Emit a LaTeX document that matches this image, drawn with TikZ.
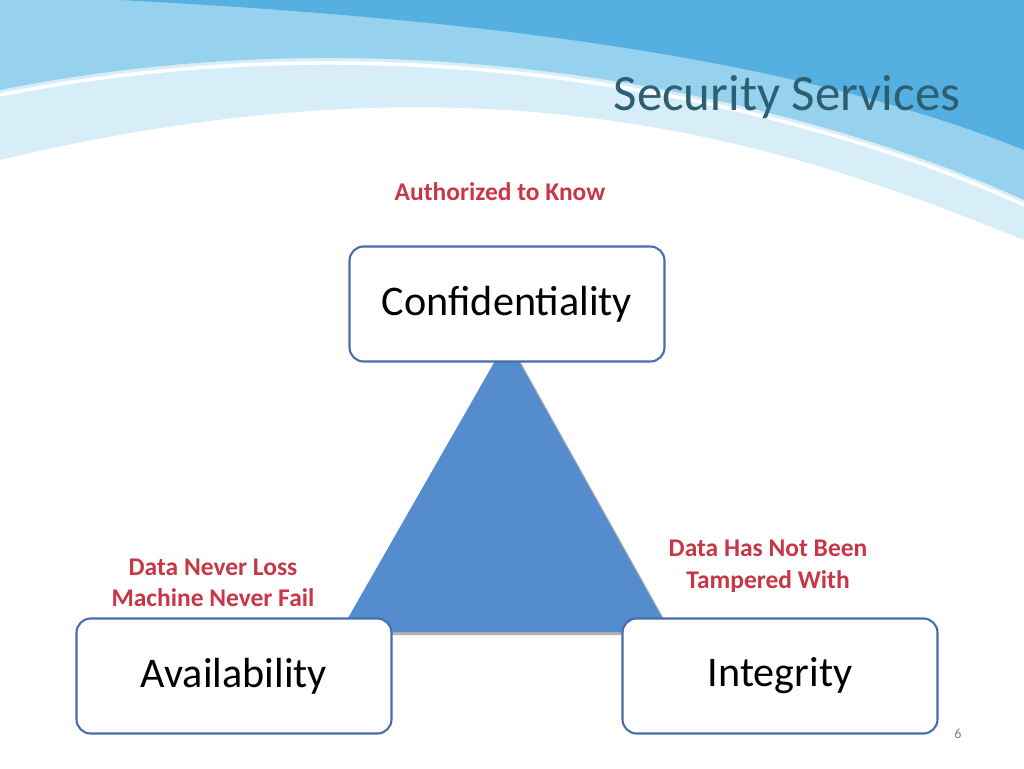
\documentclass[tikz,border=0pt]{standalone}
\usepackage{fontspec}
\setmainfont{Carlito}
\usetikzlibrary{positioning,calc}
\definecolor{boxline}{RGB}{70,110,170}
\definecolor{trifill}{RGB}{85,140,205}
\definecolor{notered}{RGB}{200,55,70}
\definecolor{titlecol}{RGB}{45,95,115}
\definecolor{wavepale}{RGB}{215,238,248}
\definecolor{wavemid}{RGB}{150,210,238}
\definecolor{wavedark}{RGB}{85,175,225}
\begin{document}
\begin{tikzpicture}[x=0.02cm,y=-0.02cm,
    servicebox/.style={draw=boxline, line width=1.2pt, fill=white, rounded corners=8pt,
      minimum width=6.3cm, minimum height=2.3cm, font=\fontsize{24}{28}\selectfont},
    note/.style={text=notered, font=\bfseries\fontsize{14.5}{18}\selectfont, align=center}]
    % --- Canvas ---
    \useasboundingbox (0,0) rectangle (1024,768);
    \fill[white] (0,0) rectangle (1024,768);

    % --- Blue wave at the top ---
    \fill[wavepale] (0,0) -- (1024,0) -- (1024,240) .. controls (800,150) and (500,40) .. (0,160) -- cycle;
    \fill[wavemid] (0,0) -- (1024,0) -- (1024,200) .. controls (850,120) and (450,0) .. (0,90) -- cycle;
    \fill[wavedark] (120,0) -- (1024,0) -- (1024,150) .. controls (800,60) and (500,20) .. (120,0) -- cycle;
    \draw[white, line width=2pt] (0,95) .. controls (450,5) and (850,125) .. (1024,205);

    % --- Title ---
    \node[text=titlecol, font=\fontsize{29}{34}\selectfont] (title) at (787,97) {Security Services};

    % --- Triangle ---
    \coordinate (apex) at (507,340);
    \coordinate (left) at (340,632);
    \coordinate (right) at (670,632);
    \fill[gray!60] ($(apex)+(3,3)$) -- ($(right)+(3,3)$) -- ($(left)+(3,3)$) -- cycle;
    \fill[trifill] (apex) -- (right) -- (left) -- cycle;

    % --- Service boxes ---
    \node[servicebox] (conf) at (507,304) {Confidentiality};
    \node[servicebox] (avail) at (234,676) {Availability};
    \node[servicebox] (integ) at (780,676) {Integrity};

    % --- Notes ---
    \node[note] (know) at (500,192) {Authorized to Know};
    \node[note] (loss) at (213,583) {Data Never Loss\\Machine Never Fail};
    \node[note] (tamper) at (768,566) {Data Has Not Been\\Tampered With};

    % --- Page number ---
    \node[text=gray, font=\fontsize{8}{10}\selectfont] (page) at (958,734) {6};
\end{tikzpicture}
\end{document}
